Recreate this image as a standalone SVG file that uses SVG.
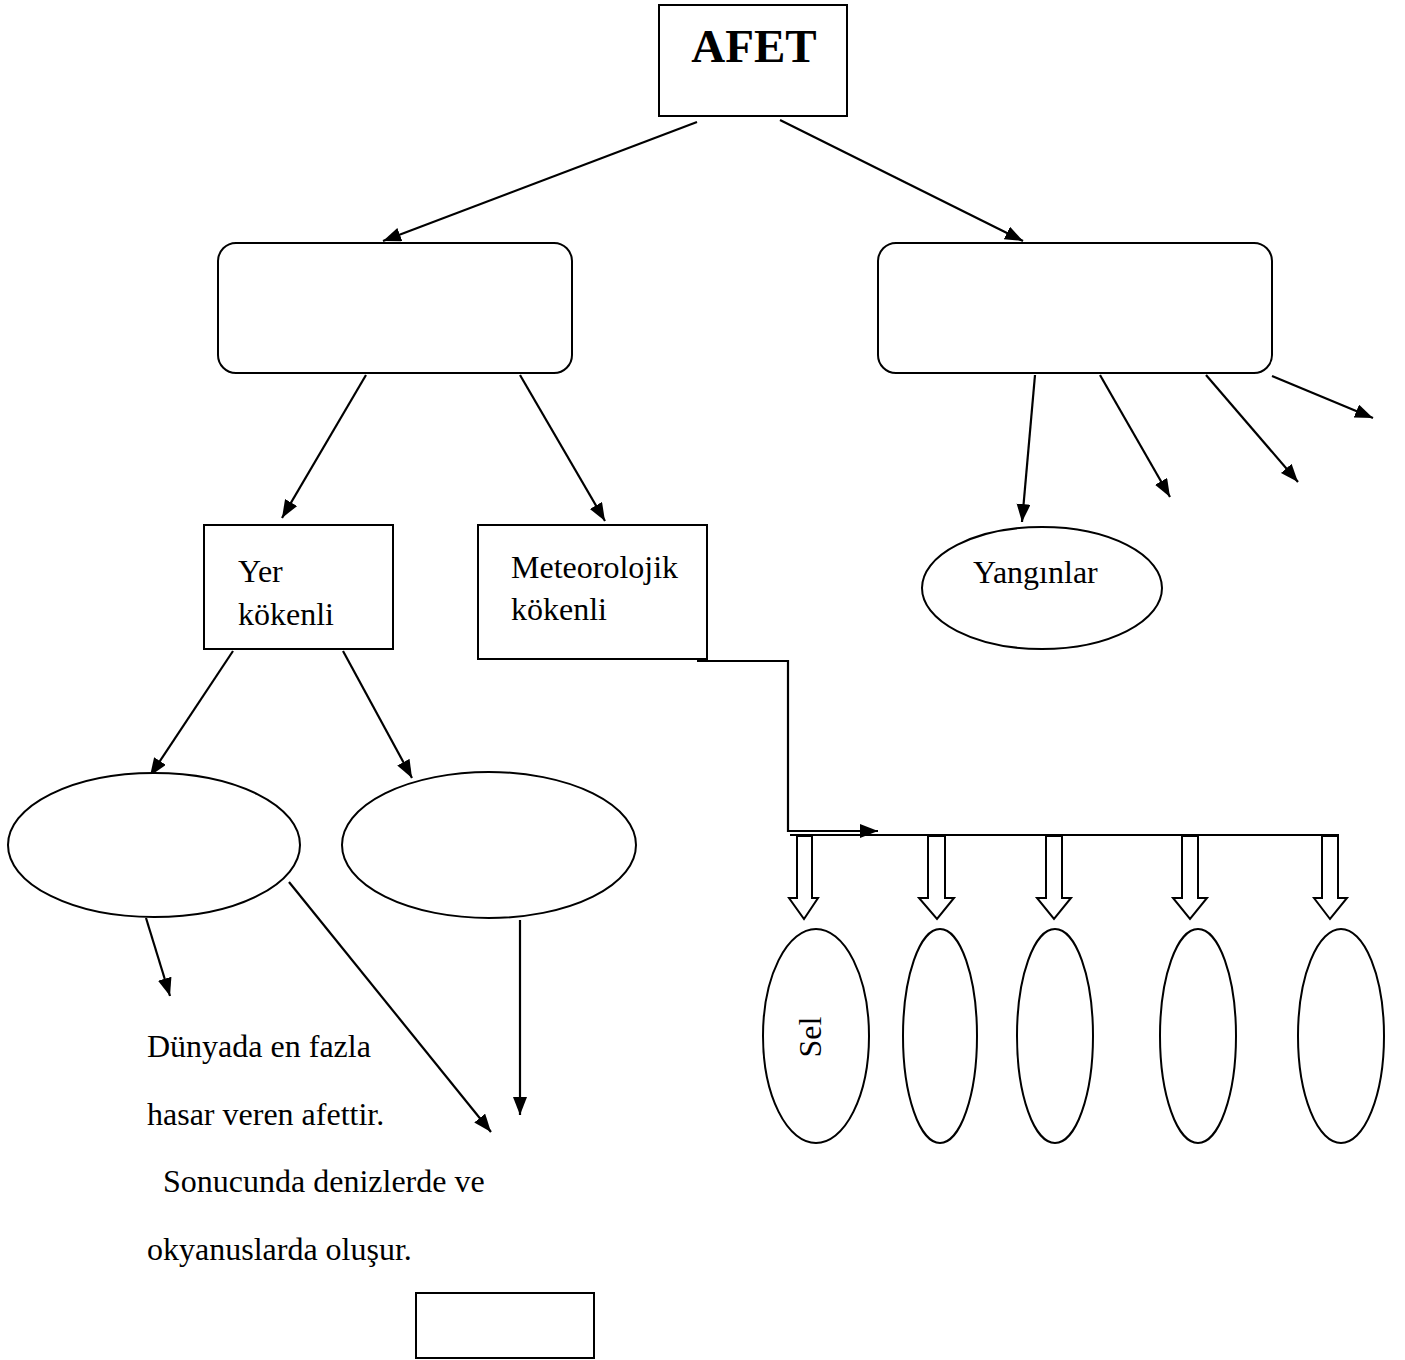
<svg xmlns="http://www.w3.org/2000/svg" width="1405" height="1360" viewBox="0 0 1405 1360">
<defs>
<marker id="ah" markerUnits="userSpaceOnUse" markerWidth="20" markerHeight="16" refX="18" refY="7" orient="auto">
<path d="M0,0 L18,7 L0,14 z" fill="#000"/>
</marker>
<style>
.box{fill:#fff;stroke:#000;stroke-width:2}
.ln{fill:none;stroke:#000;stroke-width:2.2}
.ar{fill:none;stroke:#000;stroke-width:2.2;marker-end:url(#ah)}
.blk{fill:#fff;stroke:#000;stroke-width:2;stroke-linejoin:miter}
.t{font-family:"Liberation Serif","Times New Roman",serif;font-size:32px;fill:#000}
</style>
</defs>
<rect width="1405" height="1360" fill="#fff"/>
<g id="connectors">
<line class="ar" x1="697" y1="122" x2="383" y2="241"/>
<line class="ar" x1="780" y1="120" x2="1023" y2="241"/>
<line class="ar" x1="366" y1="375" x2="282" y2="518"/>
<line class="ar" x1="520" y1="375" x2="605" y2="521"/>
<line class="ar" x1="1035" y1="375" x2="1022" y2="522"/>
<line class="ar" x1="1100" y1="375" x2="1170" y2="497"/>
<line class="ar" x1="1206" y1="375" x2="1298" y2="482"/>
<line class="ar" x1="1272" y1="376" x2="1373" y2="418"/>
<line class="ar" x1="233" y1="651" x2="150" y2="776"/>
<line class="ar" x1="343" y1="651" x2="412" y2="778"/>
<line class="ar" x1="146" y1="918" x2="170" y2="996"/>
<line class="ar" x1="289" y1="882" x2="491" y2="1132"/>
<line class="ar" x1="520" y1="920" x2="520" y2="1115"/>
<polyline class="ar" points="697,661 788,661 788,831 878,831"/>
<line class="ln" x1="790" y1="835" x2="1339" y2="835"/>
<polygon class="blk" points="797,836 812,836 812,898 818,898 804,919 789,898 797,898"/>
<polygon class="blk" points="928,836 945,836 945,898 954,898 937,919 919,898 928,898"/>
<polygon class="blk" points="1046,836 1062,836 1062,898 1071,898 1054,919 1037,898 1046,898"/>
<polygon class="blk" points="1182,836 1198,836 1198,898 1207,898 1190,919 1173,898 1182,898"/>
<polygon class="blk" points="1322,836 1338,836 1338,898 1347,898 1330,919 1314,898 1322,898"/>
</g>
<g id="afet">
<rect class="box" x="659" y="5" width="188" height="111"/>
<text x="754" y="62" text-anchor="middle" font-family="Liberation Serif, serif" font-size="47" font-weight="bold">AFET</text>
</g>
<g id="left-group"><rect class="box" x="218" y="243" width="354" height="130" rx="18"/></g>
<g id="right-group"><rect class="box" x="878" y="243" width="394" height="130" rx="18"/></g>
<g id="yer">
<rect class="box" x="204" y="525" width="189" height="124"/>
<text class="t" x="238" y="582">Yer</text>
<text class="t" x="238" y="625">kökenli</text>
</g>
<g id="meteo">
<rect class="box" x="478" y="525" width="229" height="134"/>
<text class="t" x="511" y="578">Meteorolojik</text>
<text class="t" x="511" y="620">kökenli</text>
</g>
<g id="yanginlar">
<ellipse class="box" cx="1042" cy="588" rx="120" ry="61"/>
<text class="t" x="973" y="583">Yangınlar</text>
</g>
<g id="ell1"><ellipse class="box" cx="154" cy="845" rx="146" ry="72"/></g>
<g id="ell2"><ellipse class="box" cx="489" cy="845" rx="147" ry="73"/></g>
<g id="sel">
<ellipse class="box" cx="816" cy="1036" rx="53" ry="107"/>
<text class="t" transform="translate(821,1037) rotate(-90)" text-anchor="middle">Sel</text>
</g>
<g id="m2"><ellipse class="box" cx="940" cy="1036" rx="37" ry="107"/></g>
<g id="m3"><ellipse class="box" cx="1055" cy="1036" rx="38" ry="107"/></g>
<g id="m4"><ellipse class="box" cx="1198" cy="1036" rx="38" ry="107"/></g>
<g id="m5"><ellipse class="box" cx="1341" cy="1036" rx="43" ry="107"/></g>
<g id="desc">
<text class="t" x="147" y="1057">Dünyada en fazla</text>
<text class="t" x="147" y="1125">hasar veren afettir.</text>
<text class="t" x="147" y="1192" xml:space="preserve">  Sonucunda denizlerde ve</text>
<text class="t" x="147" y="1260">okyanuslarda oluşur.</text>
</g>
<g id="small-box"><rect class="box" x="416" y="1293" width="178" height="65"/></g>
</svg>
